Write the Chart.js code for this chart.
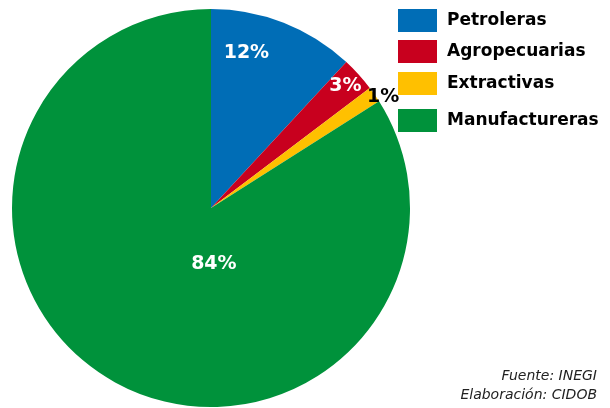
<!DOCTYPE html>
<html>
<head>
<meta charset="utf-8">
<script src="https://cdn.jsdelivr.net/npm/chart.js@4"></script>
<style>
  html, body { margin: 0; padding: 0; background: #fff; }
  #wrap { position: relative; width: 610px; height: 408px; }
</style>
</head>
<body>
<div id="wrap"><canvas id="myChart" width="610" height="408"></canvas></div>
<script>
const sectors = ["Petroleras", "Agropecuarias", "Extractivas", "Manufactureras"];
const shares = [11.9, 2.8, 1.3, 84.0];
const shownLabels = ["12%", "3%", "1%", "84%"];
const colors = ["#006db6", "#c8001e", "#ffc000", "#00923b"];
const sourceLines = ["Fuente: INEGI", "Elaboración: CIDOB"];

// where each percentage sits inside its slice: [fraction along the angle, fraction of radius]
const labelSpots = [[0.3, 0.8], [0.5, 0.91], [0.9, 1.03], [0.395, 0.28]];
const labelColors = ["#fff", "#fff", "#000", "#fff"];

const extras = {
  id: "extras",
  afterDraw(chart) {
    const ctx = chart.ctx;
    const arcs = chart.getDatasetMeta(0).data;
    ctx.save();
    ctx.textAlign = "center";
    ctx.textBaseline = "middle";
    ctx.font = "bold 19px 'DejaVu Sans'";
    arcs.forEach((arc, i) => {
      const a = arc.startAngle + (arc.endAngle - arc.startAngle) * labelSpots[i][0];
      const r = arc.outerRadius * labelSpots[i][1];
      ctx.fillStyle = labelColors[i];
      ctx.fillText(shownLabels[i], arc.x + Math.cos(a) * r, arc.y + Math.sin(a) * r);
    });

    // legend
    const boxTops = [9, 40, 72, 109];
    ctx.textAlign = "left";
    ctx.font = "bold 17px 'DejaVu Sans'";
    sectors.forEach((s, i) => {
      ctx.fillStyle = colors[i];
      ctx.fillRect(398, boxTops[i], 39, 23);
      ctx.fillStyle = "#000";
      ctx.fillText(s, 447, boxTops[i] + 12);
    });

    // source
    ctx.textAlign = "right";
    ctx.textBaseline = "alphabetic";
    ctx.font = "italic 14px 'DejaVu Sans'";
    ctx.fillStyle = "#222";
    ctx.fillText(sourceLines[0], 597, 380);
    ctx.fillText(sourceLines[1], 597, 399);
    ctx.restore();
  }
};

new Chart(document.getElementById("myChart"), {
  type: "pie",
  data: {
    labels: sectors,
    datasets: [{
      data: shares,
      backgroundColor: colors,
      borderWidth: 0,
      hoverOffset: 0
    }]
  },
  options: {
    responsive: false,
    animation: false,
    layout: { padding: { left: 12, top: 9, right: 200, bottom: 1 } },
    plugins: {
      legend: { display: false },
      tooltip: { enabled: false }
    }
  },
  plugins: [extras]
});
</script>
</body>
</html>
